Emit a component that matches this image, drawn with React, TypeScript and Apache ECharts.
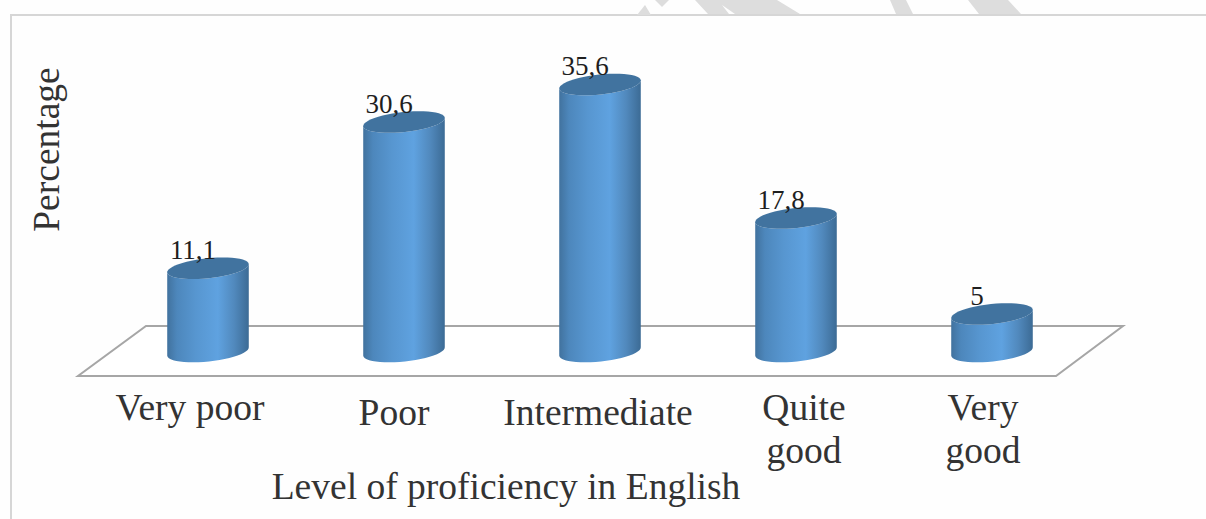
import React, { useEffect, useRef } from "react";
import * as echarts from "echarts";

const categories = ["Very poor", "Poor", "Intermediate", "Quite\ngood", "Very\ngood"];
const values = [11.1, 30.6, 35.6, 17.8, 5];
const labelPadding = [
  [0, 36, 0, 0],
  [5, 20, 0, 0],
  [5, 4, 0, 0],
  [0, 0, 0, 16],
  [0, 18, 0, 0],
];
const SERIF = "'Liberation Serif', 'Times New Roman', serif";

const HALF_W = 41;
const HALF_H = 10;
const TILT = (6 * Math.PI) / 180;
const STEPS = 24;

function ellipseAt(cx: number, cy: number, theta: number) {
  const a = HALF_W * Math.cos(theta);
  const b = HALF_H * Math.sin(theta);
  return [
    cx + a * Math.cos(TILT) + b * Math.sin(TILT),
    cy - a * Math.sin(TILT) + b * Math.cos(TILT),
  ];
}

// Front half of the ellipse, sampled from one side to the other.
function frontArc(cx: number, cy: number, fromLeft: boolean) {
  const pts: number[][] = [];
  for (let k = 0; k <= STEPS; k++) {
    const f = k / STEPS;
    pts.push(ellipseAt(cx, cy, (fromLeft ? 1 - f : f) * Math.PI));
  }
  return pts;
}

function toPath(pts: number[][]) {
  return pts.map((p, k) => `${k === 0 ? "M" : "L"} ${p[0]} ${p[1]}`).join(" ") + " Z";
}

function renderCylinder(params: any, api: any) {
  const i = api.value(0);
  const v = api.value(1);
  const [cx, cyTop] = api.coord([i, v]);
  const [, cyBase] = api.coord([i, 0]);
  const body = toPath([...frontArc(cx, cyBase, true), ...frontArc(cx, cyTop, false)]);
  const capPts: number[][] = [];
  for (let k = 0; k < STEPS * 2; k++) {
    capPts.push(ellipseAt(cx, cyTop, (k / (STEPS * 2)) * 2 * Math.PI));
  }
  return {
    type: "group",
    children: [
      {
        type: "path",
        shape: { pathData: body },
        style: {
          fill: new echarts.graphic.LinearGradient(0, 0, 1, 0, [
            { offset: 0, color: "#41729e" },
            { offset: 0.12, color: "#4d87bc" },
            { offset: 0.35, color: "#5796d0" },
            { offset: 0.62, color: "#5fa2e0" },
            { offset: 0.82, color: "#5189bd" },
            { offset: 1, color: "#3c6b95" },
          ]),
        },
      },
      {
        type: "path",
        shape: { pathData: toPath(capPts) },
        style: { fill: "#41739f" },
      },
      {
        type: "text",
        style: {
          text: String(v).replace(".", ","),
          x: cx - 15,
          y: cyTop - 18.5,
          align: "center",
          verticalAlign: "middle",
          fill: "#1f1f1f",
          font: `27px ${SERIF}`,
        },
      },
    ],
  };
}

export default function App() {
  const ref = useRef<HTMLDivElement>(null);
  useEffect(() => {
    const chart = echarts.init(ref.current!, null, { renderer: "svg" });
    chart.setOption({
      animation: false,
      backgroundColor: "#fefefe",
      textStyle: { fontFamily: SERIF },
      grid: { left: 110, right: 116, top: 51.5, height: 300, outerBoundsMode: "none" },
      xAxis: {
        type: "category",
        data: categories.map((c, i) => ({
          value: c,
          textStyle: { padding: labelPadding[i] },
        })),
        axisLine: { show: false },
        axisTick: { show: false },
        axisLabel: {
          interval: 0,
          margin: 34,
          fontSize: 37.5,
          lineHeight: 43,
          color: "#333333",
          fontFamily: SERIF,
        },
        name: "Level of proficiency in English",
        nameLocation: "middle",
        nameMoveOverlap: false,
        nameGap: 116,
        nameTextStyle: {
          fontSize: 37.5,
          color: "#333333",
          fontFamily: SERIF,
          padding: [0, 188, 0, 0],
        },
      },
      yAxis: {
        type: "value",
        min: 0,
        max: 40,
        axisLine: { show: false },
        axisTick: { show: false },
        axisLabel: { show: false },
        splitLine: { show: false },
        name: "Percentage",
        nameLocation: "middle",
        nameGap: 45,
        nameTextStyle: {
          fontSize: 37.5,
          color: "#333333",
          fontFamily: SERIF,
          padding: [0, 0, 0, 104],
        },
      },
      series: [
        {
          type: "custom",
          renderItem: renderCylinder,
          data: values.map((v, i) => [i, v]),
          encode: { x: 0, y: 1 },
          clip: false,
        },
      ],
      graphic: [
        {
          type: "polyline",
          shape: { points: [[11, 519], [11, 15], [1206, 15]] },
          style: { stroke: "#d6d6d6", lineWidth: 2, fill: "none" },
        },
        {
          type: "polygon",
          shape: { points: [[637, 15], [645, 5], [651, 15]] },
          style: { fill: "#dddddd" },
        },
        {
          type: "polygon",
          shape: { points: [[655, 0], [662, 7], [669, 0]] },
          style: { fill: "#dddddd" },
        },
        {
          type: "polygon",
          shape: { points: [[695, 0], [708, 14], [729, 14], [722, 5], [735, 14], [800, 14], [777, 0]] },
          style: { fill: "#dddddd" },
        },
        {
          type: "polygon",
          shape: { points: [[890, 0], [896, 14], [913, 14], [906, 0]] },
          style: { fill: "#dddddd" },
        },
        {
          type: "polygon",
          shape: { points: [[968, 0], [979, 14], [1021, 14], [1008, 0]] },
          style: { fill: "#dddddd" },
        },
        {
          type: "polygon",
          shape: { points: [[78, 376], [1056, 376], [1123, 326], [146, 326]] },
          style: { stroke: "#a6a6a6", lineWidth: 2, fill: "#ffffff" },
        },
      ],
    });
    return () => chart.dispose();
  }, []);
  return (
    <div
      ref={ref}
      style={{ position: "fixed", left: 0, top: 0, width: 1206, height: 519 }}
    />
  );
}
